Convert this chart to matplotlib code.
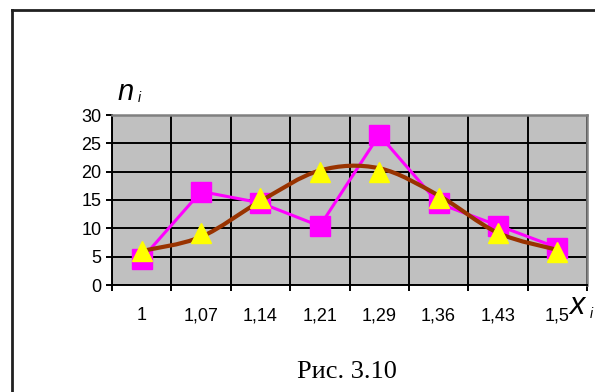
import numpy as np
import matplotlib
matplotlib.use('Agg')
import matplotlib.pyplot as plt
from matplotlib.path import Path
from matplotlib.patches import PathPatch
from matplotlib.lines import Line2D

plt.rcParams['font.family'] = ['Liberation Sans', 'DejaVu Sans']

# data
x_labels = ['1', '1,07', '1,14', '1,21', '1,29', '1,36', '1,43', '1,5']
n_emp = [4.6, 16.5, 14.5, 10.4, 26.5, 14.4, 10.5, 6.6]      # magenta squares
n_theor = [6.0, 9.1, 15.4, 20.0, 20.0, 15.4, 9.1, 5.9]      # yellow triangles
n_curve = [6.0, 8.5, 14.8, 20.2, 20.6, 15.8, 9.2, 6.2]      # brown smooth line
y_ticks = [0, 5, 10, 15, 20, 25, 30]

W, H = 595, 392
fig = plt.figure(figsize=(W / 100, H / 100), dpi=100)
ax = fig.add_axes([112 / W, 1 - 285 / H, (587 - 112) / W, (285 - 115) / H])
ax.set_facecolor('#c0c0c0')

pos = np.arange(len(x_labels))

# grid at category boundaries
ax.set_xlim(-0.5, len(x_labels) - 0.5)
ax.set_ylim(0, 30)
ax.set_xticks(np.arange(-0.5, len(x_labels)), minor=False)
ax.set_xticklabels([])
ax.set_xticks(pos, minor=True)
ax.set_xticklabels(x_labels, minor=True)
ax.set_yticks(y_ticks)
ax.grid(True, which='major', color='black', lw=1.4)
ax.set_axisbelow(True)

ax.tick_params(axis='x', which='major', direction='out', length=4.5, width=1.4, color='black')
ax.tick_params(axis='x', which='minor', length=0, pad=16, labelsize=13)
ax.tick_params(axis='y', direction='out', length=4.5, width=1.4, pad=3, labelsize=13)

for s in ['left', 'bottom']:
    ax.spines[s].set_color('black')
    ax.spines[s].set_linewidth(1.4)
for s in ['top', 'right']:
    ax.spines[s].set_color('#808080')
    ax.spines[s].set_linewidth(1.8)

# empirical polygon
ax.plot(pos, n_emp, color='#ff00ff', lw=2.2, marker='s', ms=14.5,
        mec='#ff00ff', mfc='#ff00ff', zorder=3)

# smoothed curve (Excel-like bezier through the points)
p = np.column_stack([pos, n_curve]).astype(float)
ext = np.vstack([p[0], p, p[-1]])
verts = [tuple(p[0])]
codes = [Path.MOVETO]
for i in range(len(p) - 1):
    c1 = ext[i + 1] + (ext[i + 2] - ext[i]) / 6
    c2 = ext[i + 2] - (ext[i + 3] - ext[i + 1]) / 6
    verts += [tuple(c1), tuple(c2), tuple(p[i + 1])]
    codes += [Path.CURVE4] * 3
ax.add_patch(PathPatch(Path(verts, codes), fill=False, edgecolor='#993300',
                       lw=3, zorder=4, capstyle='round', joinstyle='round'))

ax.plot(pos, n_theor, ls='none', marker='^', ms=15, mfc='#ffff00',
        mec='#ffff00', zorder=5)

# axis names
fig.text(126 / W, 1 - 92 / H, 'n', fontsize=21, style='italic', ha='center', va='center')
fig.text(139 / W, 1 - 98 / H, 'i', fontsize=10, style='italic', ha='center', va='center')
fig.text(577 / W, 1 - 306 / H, 'x', fontsize=22, style='italic', ha='center', va='center')
fig.text(591 / W, 1 - 314 / H, 'i', fontsize=10, style='italic', ha='center', va='center')

fig.text(347 / W, 1 - 372 / H, 'Рис. 3.10', fontsize=19, family='Liberation Serif',
         ha='center', va='center')

# outer frame (left and top edges visible)
fig.add_artist(Line2D([11.5 / W, 11.5 / W], [0, 1 - 10 / H], color='#202020', lw=2,
                      transform=fig.transFigure))
fig.add_artist(Line2D([11.5 / W, 1], [1 - 10 / H, 1 - 10 / H], color='#202020', lw=2,
                      transform=fig.transFigure))

fig.savefig('out.png', dpi=100)
